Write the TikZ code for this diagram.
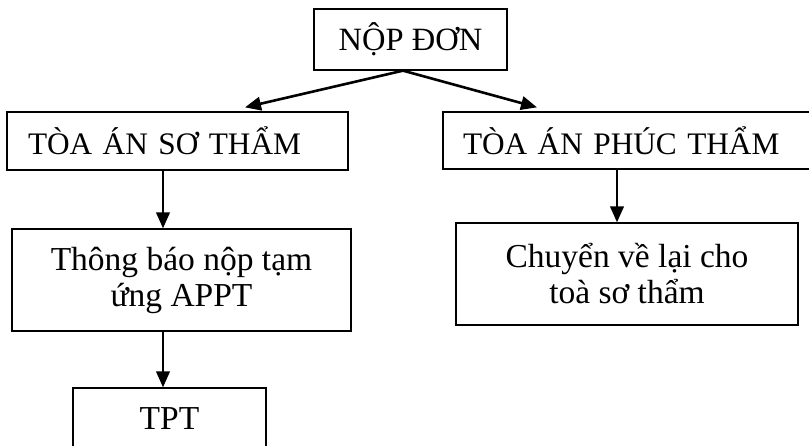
\documentclass[tikz,border=0pt]{standalone}
\usepackage{fontspec}
\setmainfont{Liberation Serif}
\newfontfamily\capsfam{Liberation Serif}[WordSpace=0.72]
\usetikzlibrary{arrows.meta}
\begin{document}
\begin{tikzpicture}[x=1pt,y=-1pt,
  box/.style={draw=black, line width=1.3pt, inner ysep=0pt, font=\fontsize{33.5}{36}\selectfont},
  capsfont/.style={font=\capsfam\fontsize{31.3}{36}\selectfont},
  cbox/.style={box, align=center},
  lbox/.style={box, capsfont, align=left, inner xsep=21pt},
  arr/.style={line width=2.6pt, -{Triangle[length=16pt,width=13.5pt]}}]
\clip (0,0) rectangle (809,446);
\fill[white] (0,0) rectangle (809,446);
\node[cbox, font=\fontsize{32.5}{36}\selectfont, minimum width=193pt, minimum height=61pt] (nop) at (410.5,39.5) {NỘP ĐƠN};
\node[lbox, minimum width=341pt, minimum height=58pt, text width=299pt] (so) at (177.5,141) {TÒA ÁN SƠ THẨM};
\node[lbox, inner xsep=20pt, minimum width=390pt, minimum height=57pt, text width=350pt] (pt) at (638,140.5) {TÒA ÁN PHÚC THẨM};
\node[cbox, minimum width=339pt, minimum height=102pt] (tb) at (181.5,280) {Thông báo nộp tạm\\ứng APPT};
\node[cbox, minimum width=342pt, minimum height=102pt] (cv) at (627,274) {Chuyển về lại cho\\toà sơ thẩm};
\node[cbox, minimum width=193pt, minimum height=62pt] (tpt) at (169.5,419) {TPT};
\draw[arr] ([xshift=-7.5pt]nop.south) -- ([xshift=67.5pt,yshift=4pt]so.north);
\draw[arr] ([xshift=-7.5pt]nop.south) -- ([xshift=-101pt,yshift=4pt]pt.north);
\draw[arr] ([xshift=-14.5pt]so.south) -- ([xshift=-18.5pt]tb.north);
\draw[arr] ([xshift=-18.5pt]tb.south) -- ([xshift=-6.5pt]tpt.north);
\draw[arr] ([xshift=-21pt]pt.south) -- ([xshift=-10pt]cv.north);
\end{tikzpicture}
\end{document}
